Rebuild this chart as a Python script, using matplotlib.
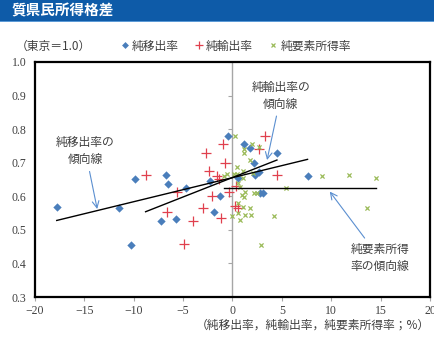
import matplotlib
matplotlib.use("Agg")
import matplotlib.pyplot as plt
import numpy as np
from matplotlib.patches import Rectangle
from matplotlib.lines import Line2D

plt.rcParams['font.family'] = ['Noto Sans CJK JP', 'DejaVu Sans']

title = "質県民所得格差"
unit_label = "（東京＝1.0）"
xlabel = "（純移出率，純輸出率，純要素所得率；%）"
series_names = ["純移出率", "純輸出率", "純要素所得率"]

# 純移出率 (blue diamonds)
move_x = [-17.8, -11.5, -10.3, -9.9, -6.7, -6.5, -7.2, -5.7, -4.7, -2.3, -1.9, -1.3,
          -0.5, 1.15, 1.8, 2.2, 4.5, 2.7, 2.3, 0.6, 2.8, 3.1, 7.6]
move_y = [0.569, 0.564, 0.455, 0.652, 0.662, 0.637, 0.527, 0.533, 0.625, 0.646, 0.554, 0.601,
          0.780, 0.755, 0.743, 0.698, 0.728, 0.673, 0.663, 0.653, 0.611, 0.611, 0.660]

# 純輸出率 (red plus)
exp_x = [-8.8, -5.6, -6.6, -4.0, -4.9, -3.0, -2.7, -2.4, -2.1, -1.2, -1.0, -0.8,
         -1.6, -1.4, -0.4, 0.3, 0.6, 0.4, 3.3, 2.7, 4.5]
exp_y = [0.663, 0.613, 0.554, 0.526, 0.457, 0.566, 0.730, 0.676, 0.601, 0.534, 0.755, 0.700,
         0.660, 0.652, 0.612, 0.572, 0.564, 0.632, 0.780, 0.742, 0.663]

# 純要素所得率 (green x)
fac_x = [0.3, 1.15, 1.15, 2.0, 2.7, 1.75, 0.5, 1.1, 0.15, 0.5, -0.9, 2.1, 1.1, 0.6, 0.8,
         5.4, 1.3, 1.0, 1.15, 2.2, 2.5, 0.55, 1.1, 1.8, 0.6, 0.0, 1.3, 1.9, 0.8, 4.2,
         2.9, 9.1, 11.8, 14.5, 13.6, -0.6]
fac_y = [0.780, 0.740, 0.730, 0.755, 0.746, 0.708, 0.686, 0.676, 0.666, 0.666, 0.660, 0.668,
         0.653, 0.639, 0.629, 0.626, 0.614, 0.604, 0.599, 0.611, 0.611, 0.579, 0.569, 0.564,
         0.549, 0.541, 0.544, 0.544, 0.529, 0.540, 0.456, 0.661, 0.663, 0.653, 0.566, 0.666]

# trend lines (endpoints)
trend_move_x = [-17.8, 7.6]
trend_move_y = [0.528, 0.710]
trend_exp_x = [-8.8, 4.5]
trend_exp_y = [0.554, 0.708]
trend_fac_x = [-0.9, 14.55]
trend_fac_y = [0.626, 0.626]

xticks = [-20, -15, -10, -5, 0, 5, 10, 15, 20]
yticks = [0.3, 0.4, 0.5, 0.6, 0.7, 0.8, 0.9, 1.0]

c_blue = '#4A7EBB'
c_red = '#E0404E'
c_green = '#9BBB59'
c_arrow = '#5B8FD0'
c_text = '#404040'

fig = plt.figure(figsize=(4.35, 3.37), dpi=100)

# title banner
fig.patches.append(Rectangle((0, 1 - 21/337), 1, 21/337, transform=fig.transFigure,
                             facecolor='#0E5BA8', edgecolor='none', zorder=0))
fig.patches.append(Rectangle((0, 1 - 22/337), 1, 1.2/337, transform=fig.transFigure,
                             facecolor='#5C9AD6', edgecolor='none', zorder=0))
fig.text(12/435, 1 - 10.5/337, title, color='white', fontsize=10.5, fontweight='bold',
         ha='left', va='center')

ax = fig.add_axes([35/435, 1 - 297/337, 395/435, 235/337])
ax.set_xlim(-20, 20)
ax.set_ylim(0.3, 1.0)

ax.axvline(0, color='#A6A6A6', lw=1.0, zorder=1)
ax.plot(np.zeros(len(yticks)), yticks, ls='none', marker=0, ms=3, mew=0.8,
        color='#A6A6A6', zorder=1, clip_on=False)

ax.scatter(move_x, move_y, marker='D', s=18, color=c_blue, zorder=3, linewidths=0)
ax.scatter(exp_x, exp_y, marker='+', s=55, color=c_red, zorder=3, linewidths=0.9)
ax.scatter(fac_x, fac_y, marker='x', s=9, color=c_green, zorder=3, linewidths=0.9)

ax.plot(trend_move_x, trend_move_y, color='black', lw=1.0, zorder=4)
ax.plot(trend_exp_x, trend_exp_y, color='black', lw=1.0, zorder=4)
ax.plot(trend_fac_x, trend_fac_y, color='black', lw=1.0, zorder=4)

arrowkw = dict(arrowstyle='->', color=c_arrow, lw=0.8, shrinkA=2, shrinkB=0,
               mutation_scale=12)
ax.annotate("純移出率の\n傾向線", xy=(-13.7, 0.562), xytext=(-14.9, 0.735),
            ha='center', va='center', fontsize=8.5, color=c_text, linespacing=1.4,
            arrowprops=arrowkw, zorder=5)
ax.annotate("純輸出率の\n傾向線", xy=(3.5, 0.708), xytext=(4.9, 0.900),
            ha='center', va='center', fontsize=8.5, color=c_text, linespacing=1.4,
            arrowprops=arrowkw, zorder=5)
ax.annotate("純要素所得\n率の傾向線", xy=(9.85, 0.614), xytext=(14.9, 0.416),
            ha='center', va='center', fontsize=8.5, color=c_text, linespacing=1.4,
            arrowprops=arrowkw, zorder=5)

for s in ax.spines.values():
    s.set_linewidth(1.6)
    s.set_color('black')

ax.set_xticks(xticks)
ax.set_yticks(yticks)
ax.set_xticklabels([("\u2212%d" % abs(v)) if v < 0 else "%d" % v for v in xticks],
                   family='Liberation Serif', fontsize=8.5, color=c_text)
ax.set_yticklabels(["%.1f" % v for v in yticks], family='Liberation Serif',
                   fontsize=8.5, color=c_text)
ax.tick_params(axis='x', direction='out', length=3, width=0.8, color='#A6A6A6', pad=3)
ax.tick_params(axis='y', length=0, pad=6)

fig.text(430/435, 1 - 325/337, xlabel, ha='right', va='center', fontsize=8.5, color=c_text)
fig.text(16/435, 1 - 46/337, unit_label, ha='left', va='center', fontsize=8.5, color=c_text)

handles = [
    Line2D([], [], ls='none', marker='D', ms=3.5, color=c_blue, mew=0),
    Line2D([], [], ls='none', marker='+', ms=6, color=c_red, mew=0.9),
    Line2D([], [], ls='none', marker='x', ms=3, color=c_green, mew=0.9),
]
leg = fig.legend(handles, series_names, loc='center', bbox_to_anchor=(236/435, 1 - 46/337),
                 ncol=3, frameon=False, fontsize=8.5, handlelength=0.6, handletextpad=0.3,
                 columnspacing=1.4, borderpad=0)
for t in leg.get_texts():
    t.set_color(c_text)

fig.savefig("out.png", dpi=100)
